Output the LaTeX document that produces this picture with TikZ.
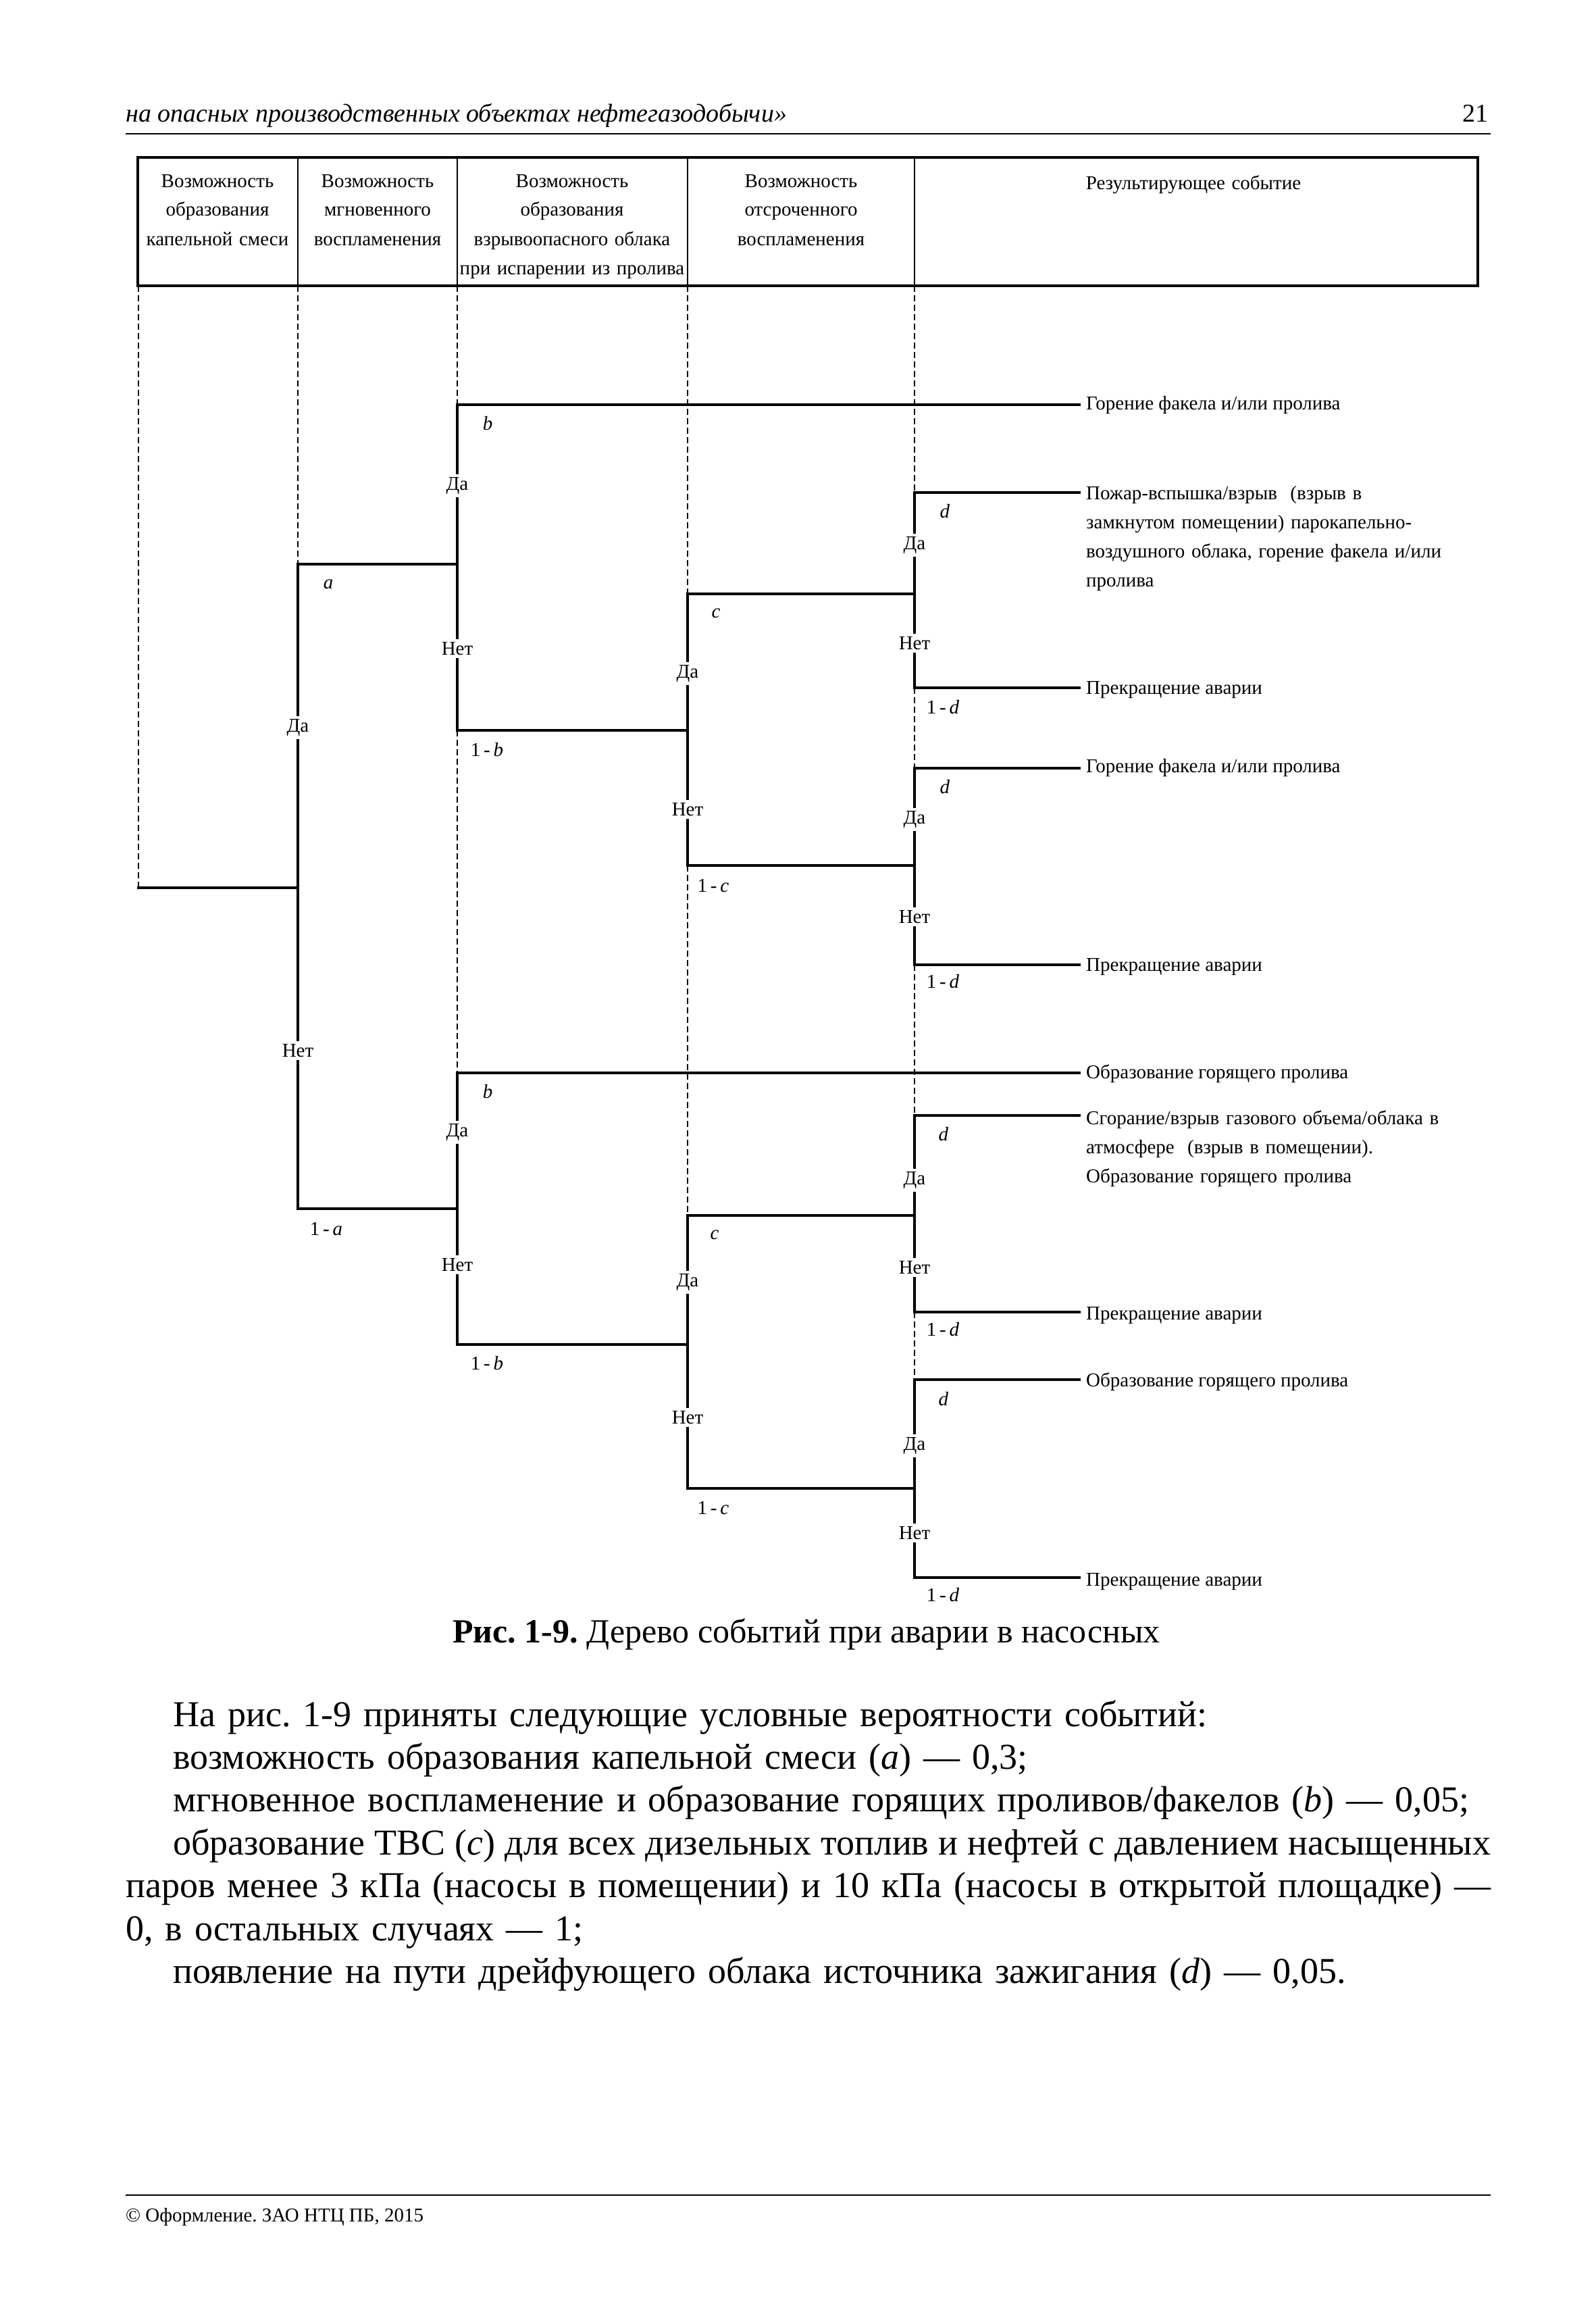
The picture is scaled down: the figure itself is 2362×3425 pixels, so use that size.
\documentclass[tikz,border=0pt]{standalone}
\usepackage{fontspec}
\setmainfont{Liberation Serif}
\newcommand\tsz{\fontsize{29}{43}\selectfont}
\newcommand\bsz{\fontsize{54}{63.4}\selectfont}
\newcommand\csz{\fontsize{50}{60}\selectfont}
\newcommand\hsz{\fontsize{38}{48}\selectfont}
\newcommand\fsz{\fontsize{29}{36}\selectfont}
\frenchspacing
\begin{document}
\begin{tikzpicture}[x=1pt,y=-1pt,
  evline/.style={line width=3.4pt,line cap=rect},
  guide/.style={line width=1.6pt,dash pattern=on 9pt off 5pt},
  yn/.style={fill=white,inner sep=4pt,font=\tsz},
  prob/.style={inner sep=0pt,font=\tsz},
  res/.style={inner sep=0pt,font=\tsz,anchor=west},
  resm/.style={inner sep=0pt,font=\tsz,anchor=base west,text width=640pt,align=left},
  colhead/.style={inner sep=0pt,font=\tsz,anchor=base,align=center,text width=#1},
  rulel/.style={line width=2.5pt}]
\useasboundingbox (0,0) rectangle (2362,3425);
\fill[white] (0,0) rectangle (2362,3425);

% running head
\node[anchor=base west,inner sep=0pt,font=\hsz\itshape] (runhead) at (186,181) {на опасных производственных объектах нефтегазодобычи»};
\node[anchor=base east,inner sep=0pt,font=\hsz] (pageno) at (2204,181) {21};
\draw[rulel] (186,198) -- (2207,198);

% table
\draw[line width=3.5pt] (204,233) rectangle (2188,423);
\foreach \x in {441,677,1018,1354} \draw[line width=1.8pt] (\x,233) -- (\x,423);
\node[colhead=400pt] (h1) at (322,277) {Возможность\\образования\\капельной смеси};
\node[colhead=400pt] (h2) at (559,277) {Возможность\\мгновенного\\воспламенения};
\node[colhead=400pt] (h3) at (847,277) {Возможность\\образования\\взрывоопасного облака\\при испарении из пролива};
\node[colhead=400pt] (h4) at (1186,277) {Возможность\\отсроченного\\воспламенения};
\node[colhead=800pt] (h5) at (1767,280) {Результирующее событие};

% coordinates
\coordinate (T0) at (205,423);
\coordinate (T1) at (441,423);
\coordinate (T2) at (677,423);
\coordinate (T3) at (1018,423);
\coordinate (T4) at (1354,423);
\coordinate (R) at (205,1314);
\coordinate (Aj) at (441,1314);
\coordinate (At) at (441,835);
\coordinate (Ab) at (441,1789);
\coordinate (B1t) at (677,599);
\coordinate (B1j) at (677,835);
\coordinate (B1b) at (677,1081);
\coordinate (B2t) at (677,1588);
\coordinate (B2j) at (677,1789);
\coordinate (B2b) at (677,1990);
\coordinate (C1t) at (1018,879);
\coordinate (C1j) at (1018,1081);
\coordinate (C1b) at (1018,1281);
\coordinate (C2t) at (1018,1799);
\coordinate (C2j) at (1018,1990);
\coordinate (C2b) at (1018,2203);
\coordinate (D1t) at (1354,729);
\coordinate (D1j) at (1354,879);
\coordinate (D1b) at (1354,1018);
\coordinate (D2t) at (1354,1137);
\coordinate (D2j) at (1354,1281);
\coordinate (D2b) at (1354,1428);
\coordinate (D3t) at (1354,1651);
\coordinate (D3j) at (1354,1799);
\coordinate (D3b) at (1354,1942);
\coordinate (D4t) at (1354,2042);
\coordinate (D4j) at (1354,2203);
\coordinate (D4b) at (1354,2335);
\coordinate (E1) at (1598,599);
\coordinate (E2) at (1598,729);
\coordinate (E3) at (1598,1018);
\coordinate (E4) at (1598,1137);
\coordinate (E5) at (1598,1428);
\coordinate (E6) at (1598,1588);
\coordinate (E7) at (1598,1651);
\coordinate (E8) at (1598,1942);
\coordinate (E9) at (1598,2042);
\coordinate (E10) at (1598,2335);

% dashed guides
\draw[guide] (T0) -- (R);
\draw[guide] (T1) -- (At);
\draw[guide] (T2) -- (B1t);
\draw[guide] (B1b) -- (B2t);
\draw[guide] (T3) -- (C1t);
\draw[guide] (C1b) -- (C2t);
\draw[guide] (T4) -- (D1t);
\draw[guide] (D1b) -- (D2t);
\draw[guide] (D2b) -- (D3t);
\draw[guide] (D3b) -- (D4t);

% tree branches
\draw[evline] (R) -- (Aj);
\draw[evline] (At) -- (Ab);
\draw[evline] (At) -- (B1j);
\draw[evline] (Ab) -- (B2j);
\draw[evline] (B1t) -- (B1b);
\draw[evline] (B1t) -- (E1);
\draw[evline] (B1b) -- (C1j);
\draw[evline] (B2t) -- (B2b);
\draw[evline] (B2t) -- (E6);
\draw[evline] (B2b) -- (C2j);
\draw[evline] (C1t) -- (C1b);
\draw[evline] (C1t) -- (D1j);
\draw[evline] (C1b) -- (D2j);
\draw[evline] (C2t) -- (C2b);
\draw[evline] (C2t) -- (D3j);
\draw[evline] (C2b) -- (D4j);
\draw[evline] (D1t) -- (D1b);
\draw[evline] (D1t) -- (E2);
\draw[evline] (D1b) -- (E3);
\draw[evline] (D2t) -- (D2b);
\draw[evline] (D2t) -- (E4);
\draw[evline] (D2b) -- (E5);
\draw[evline] (D3t) -- (D3b);
\draw[evline] (D3t) -- (E7);
\draw[evline] (D3b) -- (E8);
\draw[evline] (D4t) -- (D4b);
\draw[evline] (D4t) -- (E9);
\draw[evline] (D4b) -- (E10);

% yes / no labels
\node[yn] (ay) at (441,1077) {Да};
\node[yn] (an) at (441,1555) {Нет};
\node[yn] (b1y) at (677,719) {Да};
\node[yn] (b1n) at (677,960) {Нет};
\node[yn] (b2y) at (677,1676) {Да};
\node[yn] (b2n) at (677,1872) {Нет};
\node[yn] (c1y) at (1018,997) {Да};
\node[yn] (c1n) at (1018,1198) {Нет};
\node[yn] (c2y) at (1018,1898) {Да};
\node[yn] (c2n) at (1018,2098) {Нет};
\node[yn] (d1y) at (1354,807) {Да};
\node[yn] (d1n) at (1354,952) {Нет};
\node[yn] (d2y) at (1354,1213) {Да};
\node[yn] (d2n) at (1354,1357) {Нет};
\node[yn] (d3y) at (1354,1747) {Да};
\node[yn] (d3n) at (1354,1876) {Нет};
\node[yn] (d4y) at (1354,2140) {Да};
\node[yn] (d4n) at (1354,2269) {Нет};

% probabilities
\node[prob] (pa) at (486,865) {\textit{a}};
\node[prob] (pna) at (483,1819) {1\,-\,\textit{a}};
\node[prob] (pb1) at (722,627) {\textit{b}};
\node[prob] (pnb1) at (721,1110) {1\,-\,\textit{b}};
\node[prob] (pb2) at (722,1616) {\textit{b}};
\node[prob] (pnb2) at (721,2018) {1\,-\,\textit{b}};
\node[prob] (pc1) at (1060,908) {\textit{c}};
\node[prob] (pnc1) at (1056,1311) {1\,-\,\textit{c}};
\node[prob] (pc2) at (1058,1828) {\textit{c}};
\node[prob] (pnc2) at (1056,2232) {1\,-\,\textit{c}};
\node[prob] (pd1) at (1399,757) {\textit{d}};
\node[prob] (pnd1) at (1396,1047) {1\,-\,\textit{d}};
\node[prob] (pd2) at (1399,1165) {\textit{d}};
\node[prob] (pnd2) at (1396,1453) {1\,-\,\textit{d}};
\node[prob] (pd3) at (1397,1679) {\textit{d}};
\node[prob] (pnd3) at (1396,1968) {1\,-\,\textit{d}};
\node[prob] (pd4) at (1397,2071) {\textit{d}};
\node[prob] (pnd4) at (1396,2361) {1\,-\,\textit{d}};

% results
\node[res] (r1) at (1608,600) {Горение факела и/или пролива};
\node[resm] (r2) at (1608,739) {Пожар-вспышка/взрыв\ \ (взрыв в\\замкнутом помещении) парокапельно-\\воздушного облака, горение факела и/или\\пролива};
\node[res] (r3) at (1608,1021) {Прекращение аварии};
\node[res] (r4) at (1608,1137) {Горение факела и/или пролива};
\node[res] (r5) at (1608,1431) {Прекращение аварии};
\node[res] (r6) at (1608,1589) {Образование горящего пролива};
\node[resm] (r7) at (1608,1664) {Сгорание/взрыв газового объема/облака в\\атмосфере\ \ (взрыв в помещении).\\Образование горящего пролива};
\node[res] (r8) at (1608,1947) {Прекращение аварии};
\node[res] (r9) at (1608,2045) {Образование горящего пролива};
\node[res] (r10) at (1608,2341) {Прекращение аварии};

% caption
\node[anchor=base,inner sep=0pt,font=\csz] (cap) at (1194,2431) {\textbf{Рис. 1-9.} Дерево событий при аварии в насосных};

% body text
\node[anchor=base west,inner sep=0pt,text width=2021pt,font=\bsz] (body) at (186,2555) {\parindent=0pt\tolerance=9999
\hspace*{70pt}На рис. 1-9 приняты следующие условные вероятности событий:\par
\hspace*{70pt}возможность образования капельной смеси (\textit{a}) — 0,3;\par
\hspace*{70pt}мгновенное воспламенение и образование горящих проливов/факелов (\textit{b})~—~0,05;\par
\hbox to \hsize{\spaceskip=0.14em plus 0.6em minus 0.04em\hspace*{70pt}образование ТВС (\textit{c}) для всех дизельных топлив и нефтей с давлением насыщенных}
\hbox to \hsize{\spaceskip=0.2em plus 0.6em minus 0.05em паров менее 3 кПа (насосы в помещении) и 10 кПа (насосы в открытой площадке) —}
\noindent 0, в остальных случаях — 1;\par
\hspace*{70pt}появление на пути дрейфующего облака источника зажигания (\textit{d}) — 0,05.\par};

% footer
\draw[rulel] (186,3249) -- (2207,3249);
\node[anchor=base west,inner sep=0pt,font=\fsz] (foot) at (186,3288) {© Оформление. ЗАО НТЦ ПБ, 2015};
\end{tikzpicture}
\end{document}
